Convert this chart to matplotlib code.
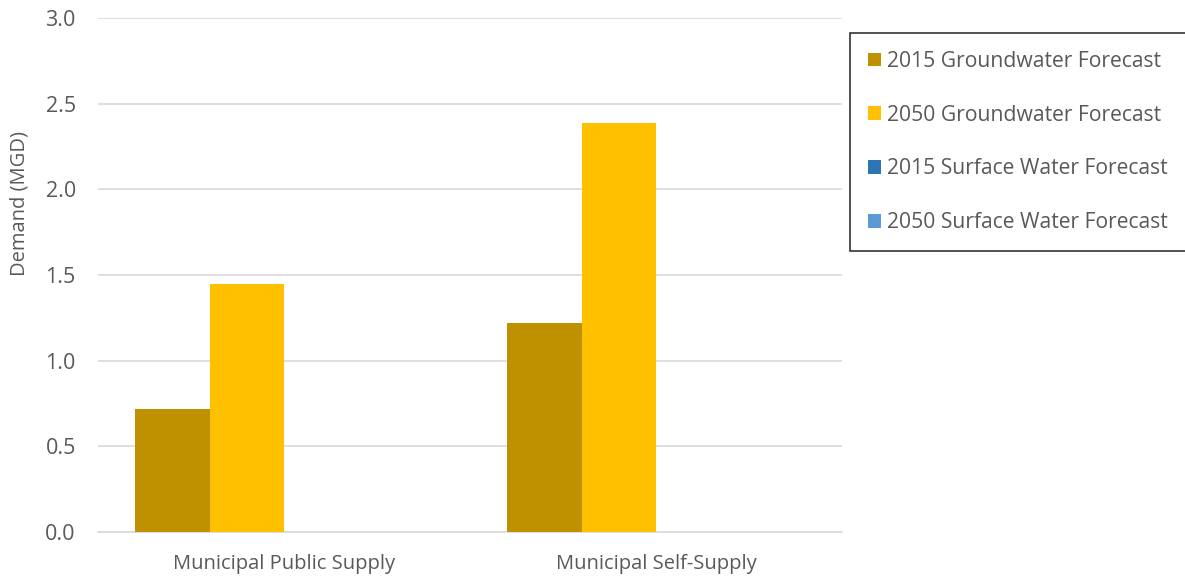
import numpy as np
import matplotlib.pyplot as plt

plt.rcParams['font.family'] = ['Open Sans', 'DejaVu Sans']

categories = ["Municipal Public Supply", "Municipal Self-Supply"]
series = ["2015 Groundwater Forecast", "2050 Groundwater Forecast",
          "2015 Surface Water Forecast", "2050 Surface Water Forecast"]
gw_2015 = [0.72, 1.22]
gw_2050 = [1.45, 2.39]
sw_2015 = [0.0, 0.0]
sw_2050 = [0.0, 0.0]
colors = ["#BF9000", "#FFC000", "#2E75B6", "#5B9BD5"]

W, H = 1185, 577
fig = plt.figure(figsize=(W / 100, H / 100), dpi=100)
ax = fig.add_axes([98 / W, 1 - 532 / H, (842 - 98) / W, (532 - 18) / H])

x = np.arange(len(categories))
w = 0.2
handles = []
for i, (vals, lab, c) in enumerate(zip([gw_2015, gw_2050, sw_2015, sw_2050], series, colors)):
    b = ax.bar(x + (i - 1.5) * w, vals, w, color=c, label=lab, zorder=3)
    handles.append(b)

ax.set_xlim(-0.5, 1.5)
ax.set_ylim(0, 3.0)
ax.set_yticks(np.arange(0, 3.01, 0.5))
ax.set_yticklabels([f"{v:.1f}" for v in np.arange(0, 3.01, 0.5)])
ax.set_xticks(x)
ax.set_xticklabels(categories)
ax.grid(axis='y', color='#D9D9D9', linewidth=1.2, zorder=0)
for s in ['top', 'right', 'left']:
    ax.spines[s].set_visible(False)
ax.spines['bottom'].set_color('#D9D9D9')
ax.spines['bottom'].set_linewidth(1.2)
ax.tick_params(axis='both', length=0, labelsize=14.5, colors='#595959')
ax.tick_params(axis='y', labelsize=15.5, pad=16)
ax.tick_params(axis='x', pad=16)
ax.set_ylabel("Demand (MGD)", fontsize=14.5, color='#595959')
ax.yaxis.set_label_coords(-0.092, 0.64)

leg = fig.legend(handles=handles, loc='upper left', bbox_to_anchor=(850 / W, 1 - 33 / H),
                 borderaxespad=0, fontsize=15.2, frameon=True, fancybox=False,
                 edgecolor='black', labelspacing=1.55, handlelength=0.62, handleheight=0.62,
                 handletextpad=0.3, borderpad=0.85, labelcolor='#595959')
leg.get_frame().set_linewidth(1.2)

fig.savefig("out.png", dpi=100)
